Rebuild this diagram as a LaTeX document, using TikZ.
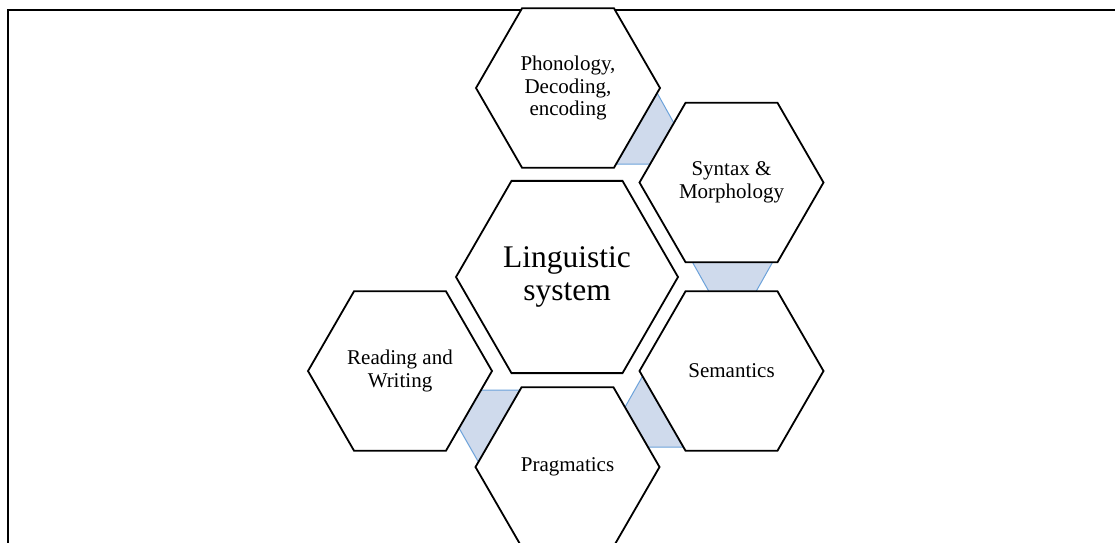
\documentclass[tikz,border=0pt]{standalone}
\usepackage{fontspec}
\setmainfont{Liberation Serif}
\usetikzlibrary{shapes.geometric}
\definecolor{linkfill}{RGB}{207,218,236}
\definecolor{linkline}{RGB}{108,162,218}
\tikzset{
  hexcell/.style={shape=regular polygon, regular polygon sides=6,
    minimum size=184pt, inner sep=0pt, draw=black, line width=1.8pt,
    fill=white, align=center, font=\fontsize{21}{22.5}\selectfont},
  hubcell/.style={hexcell, minimum size=222pt,
    font=\fontsize{31.5}{33}\selectfont},
  link/.style={fill=linkfill, draw=linkline, line width=1pt, line join=round},
  frame/.style={draw=black, line width=1.9pt}
}
\begin{document}
\begin{tikzpicture}[x=1pt, y=-1pt]
  \useasboundingbox (0,0) rectangle (1115,542);
  \clip (0,0) rectangle (1115,542);
  % outer frame, running past the right and bottom edges
  \draw[frame] (8,10) rectangle (1130,560);

  % shaded links between neighbouring cells
  \draw[link] (651,82) -- (680,134) -- (656,164) -- (610,164) -- cycle;
  \draw[link] (688.4,255) -- (776.6,255) -- (752.4,298) -- (712.6,298) -- cycle;
  \draw[link] (650,363) -- (620,416) -- (640,447) -- (690,447) -- cycle;
  \draw[link] (476,390) -- (528,390) -- (483,470) -- (455,421) -- cycle;

  % hexagonal cells
  \node[hubcell] (hub) at (567,277) {Linguistic\\system};
  \node[hexcell] (phon) at (568,88) {Phonology,\\Decoding,\\encoding};
  \node[hexcell] (synt) at (731.5,182.5) {Syntax \&\\Morphology};
  \node[hexcell] (sem) at (731.5,371) {Semantics};
  \node[hexcell] (prag) at (567.5,467) {Pragmatics};
  \node[hexcell] (read) at (400,371) {Reading and\\Writing};
\end{tikzpicture}
\end{document}
